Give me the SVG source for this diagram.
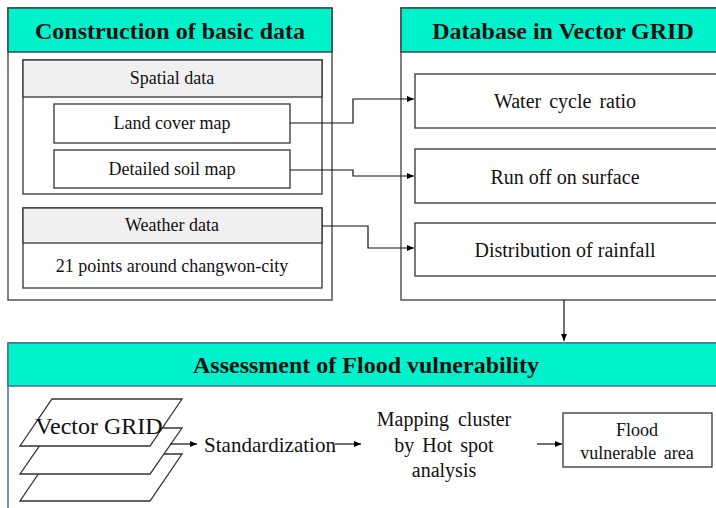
<svg xmlns="http://www.w3.org/2000/svg" width="716" height="508" viewBox="0 0 716 508">
<defs>
<marker id="ah" markerWidth="8" markerHeight="8" refX="7" refY="4" orient="auto" markerUnits="userSpaceOnUse">
<path d="M0,1 L7,4 L0,7 Z" fill="#000"/>
</marker>
<style>
text{font-family:"Liberation Serif","Times New Roman",serif;fill:#111;text-anchor:middle}
.hd{font-weight:bold;font-size:24px}
.t18{font-size:18px}
.t20{font-size:20px}
.panel{fill:#fff;stroke:#555;stroke-width:1.5}
.head{fill:#00F2CD;stroke:#444;stroke-width:1.5}
.box{fill:#fff;stroke:#333;stroke-width:1.3}
.gray{fill:#f0f0f0;stroke:#333;stroke-width:1.3}
.layer{fill:#fff;stroke:#333;stroke-width:1.3}
.conn{fill:none;stroke:#111;stroke-width:1.2}
</style>
</defs>
<rect width="716" height="508" fill="#fff"/>

<g id="basic-data">
<rect class="panel" x="8" y="8" width="324" height="292"/>
<rect class="head" x="8" y="8" width="324" height="44"/>
<text class="hd" x="170" y="39">Construction of basic data</text>
</g>

<g id="spatial-data">
<rect class="box" x="23" y="60" width="299" height="134"/>
<rect class="gray" x="23" y="60" width="299" height="37"/>
<text class="t18" x="172" y="84">Spatial data</text>
</g>
<g id="land-cover">
<rect class="box" x="54" y="104" width="236" height="39"/>
<text class="t18" x="172" y="129">Land cover map</text>
</g>
<g id="soil-map">
<rect class="box" x="54" y="150" width="236" height="38"/>
<text class="t18" x="172" y="175">Detailed soil map</text>
</g>
<g id="weather-data">
<rect class="box" x="23" y="208" width="299" height="80"/>
<rect class="gray" x="23" y="208" width="299" height="35"/>
<text class="t18" x="172" y="231">Weather data</text>
<text class="t18" x="172" y="272">21 points around changwon-city</text>
</g>

<g id="vector-grid-db">
<rect class="panel" x="401" y="8" width="330" height="292"/>
<rect class="head" x="401" y="8" width="330" height="44"/>
<text class="hd" x="563" y="39">Database in Vector GRID</text>
</g>
<g id="water-cycle">
<rect class="box" x="415" y="74" width="310" height="54"/>
<text class="t20" x="565" y="108" word-spacing="3">Water cycle ratio</text>
</g>
<g id="runoff">
<rect class="box" x="415" y="149" width="310" height="54"/>
<text class="t20" x="565" y="184">Run off on surface</text>
</g>
<g id="rainfall">
<rect class="box" x="415" y="223" width="310" height="53"/>
<text class="t20" x="565" y="257">Distribution of rainfall</text>
</g>

<g id="assessment">
<rect x="8" y="343" width="720" height="180" fill="#fff" stroke="#4a7090" stroke-width="1.5"/>
<rect x="8" y="343" width="720" height="43" fill="#00F2CD" stroke="#4a7090" stroke-width="1.5"/>
<text class="hd" x="366" y="373">Assessment of Flood vulnerability</text>
</g>

<g id="vector-grid-layers">
<polygon class="layer" points="52,454 182,454 150,501 20,501"/>
<polygon class="layer" points="52,428 182,428 150,474 20,474"/>
<polygon class="layer" points="52,399 182,399 150,446 20,446"/>
<text x="99" y="434" style="font-size:24px">Vector GRID</text>
</g>
<g id="standardization">
<text class="t20" x="270" y="452" style="font-size:21px">Standardization</text>
</g>
<g id="mapping-cluster">
<text class="t20" x="444" y="426" word-spacing="4">Mapping cluster</text>
<text class="t20" x="444" y="452" word-spacing="3">by Hot spot</text>
<text class="t20" x="444" y="477">analysis</text>
</g>
<g id="flood-area">
<rect class="box" x="563" y="413" width="149" height="54"/>
<text class="t18" x="637" y="436">Flood</text>
<text class="t18" x="637" y="459" word-spacing="3">vulnerable area</text>
</g>

<g id="connectors">
<polyline class="conn" points="290,123 353,123 353,99 414,99" marker-end="url(#ah)"/>
<polyline class="conn" points="290,170 353,170 353,176 414,176" marker-end="url(#ah)"/>
<polyline class="conn" points="322,226 368,226 368,248 414,248" marker-end="url(#ah)"/>
<line class="conn" x1="564" y1="300" x2="564" y2="341" marker-end="url(#ah)"/>
<line class="conn" x1="170" y1="444" x2="197" y2="444" marker-end="url(#ah)"/>
<line class="conn" x1="335" y1="444" x2="361" y2="444" marker-end="url(#ah)"/>
<line class="conn" x1="537" y1="444" x2="562" y2="444" marker-end="url(#ah)"/>
</g>
</svg>
